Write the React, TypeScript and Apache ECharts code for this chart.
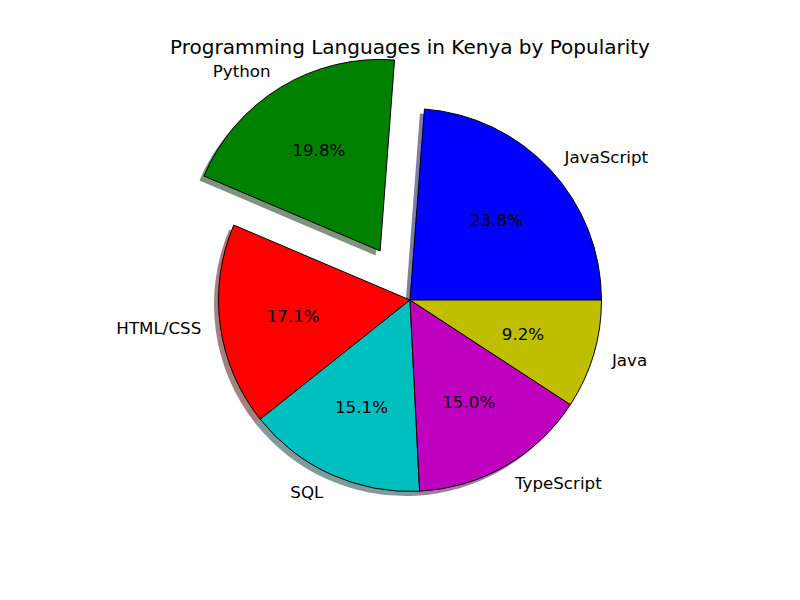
import React, { useEffect, useRef } from "react";
import * as echarts from "echarts";

const languages = ["JavaScript", "Python", "HTML/CSS", "SQL", "TypeScript", "Java"];
const shares = [23.8, 19.8, 17.1, 15.1, 15.0, 9.2];
const colors = ["#0000ff", "#008000", "#ff0000", "#00bfbf", "#bf00bf", "#bfbf00"];
const exploded = [false, true, false, false, false, false];

const R = 191.5;
const CX = 410;
const CY = 300;
const EXPLODE = 0.3 * R;
const SHADOW = 4.5;

function shadowColor(hex: string): string {
  const r = parseInt(hex.slice(1, 3), 16);
  const g = parseInt(hex.slice(3, 5), 16);
  const b = parseInt(hex.slice(5, 7), 16);
  return `rgba(${Math.round(r * 0.3)},${Math.round(g * 0.3)},${Math.round(b * 0.3)},0.5)`;
}

export default function App() {
  const ref = useRef<HTMLDivElement>(null);
  useEffect(() => {
    if (!ref.current) return;
    const chart = echarts.init(ref.current, undefined, { renderer: "svg" });
    const font = "DejaVu Sans";
    const common = {
      type: "pie" as const,
      startAngle: 0,
      clockwise: false,
      silent: true,
      selectedMode: true,
      selectedOffset: EXPLODE,
      emphasis: { disabled: true },
      avoidLabelOverlap: false,
      animation: false,
    };
    chart.setOption({
      animation: false,
      title: {
        text: "Programming Languages in Kenya by Popularity",
        left: 405,
        top: 32,
        textAlign: "center",
        textStyle: { fontFamily: font, fontSize: 20, fontWeight: "normal", color: "#000" },
      },
      series: [
        {
          ...common,
          z: 1,
          center: [CX - SHADOW, CY + SHADOW],
          radius: [0, R],
          label: { show: false },
          labelLine: { show: false },
          data: languages.map((n, i) => ({
            name: n,
            value: shares[i],
            selected: exploded[i],
            itemStyle: { color: shadowColor(colors[i]), borderWidth: 0 },
          })),
        },
        {
          ...common,
          z: 2,
          center: [CX, CY],
          radius: [0, R],
          label: {
            show: true,
            position: "outside",
            formatter: "{b}",
            fontFamily: font,
            fontSize: 16.7,
            color: "#000",
            distanceToLabelLine: 0,
          },
          labelLine: { show: false, length: 0.1 * R, length2: 0 },
          data: languages.map((n, i) => ({
            name: n,
            value: shares[i],
            selected: exploded[i],
            itemStyle: { color: colors[i], borderColor: "#000", borderWidth: 1 },
          })),
        },
        {
          ...common,
          z: 3,
          center: [CX, CY],
          radius: [0, 1.2 * R],
          label: {
            show: true,
            position: "inside",
            formatter: (p: any) => p.value.toFixed(1) + "%",
            fontFamily: font,
            fontSize: 16.7,
            color: "#000",
          },
          labelLine: { show: false },
          data: languages.map((n, i) => ({
            name: n,
            value: shares[i],
            selected: exploded[i],
            itemStyle: { color: "rgba(0,0,0,0)", borderWidth: 0 },
          })),
        },
      ],
    });
    return () => chart.dispose();
  }, []);
  return (
    <div
      ref={ref}
      style={{ position: "fixed", left: 0, top: 0, width: 800, height: 600, background: "#fff" }}
    />
  );
}
